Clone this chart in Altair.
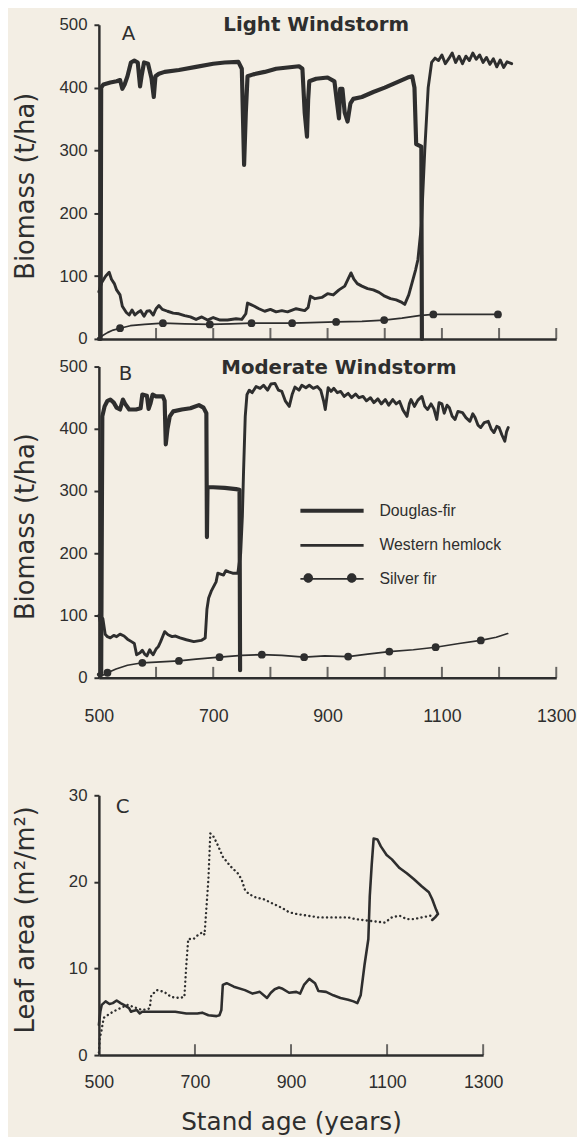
import altair as alt
import pandas as pd

INK = "#2e2e2e"
BG = "#f3eee4"
SERIES = ["Douglas-fir", "Western hemlock", "Silver fir"]

# ---------------- Panel A : Light windstorm (biomass, t/ha) ----------------
a_douglas = [(500, 0), (503, 0), (504, 400), (508, 405), (520, 408), (531, 410), (537, 412), (541, 398),
             (545, 405), (550, 418), (556, 440), (562, 443), (568, 440), (572, 402), (575, 420), (579, 440),
             (586, 438), (592, 415), (596, 385), (599, 418), (605, 422), (615, 425), (640, 428), (670, 433),
             (700, 438), (720, 440), (744, 441), (750, 430), (754, 277), (757, 360), (760, 418), (770, 421),
             (790, 425), (810, 430), (830, 432), (850, 434), (856, 430), (860, 360), (864, 322), (866, 380),
             (868, 410), (880, 414), (900, 416), (912, 410), (916, 380), (920, 351), (922, 398), (926, 398),
             (930, 360), (935, 346), (940, 375), (945, 382), (960, 385), (980, 393), (1000, 400), (1020, 408),
             (1040, 416), (1048, 418), (1052, 400), (1055, 310), (1064, 306), (1065, 0)]
a_hemlock = [(500, 75), (505, 90), (512, 100), (518, 106), (522, 95), (527, 88), (531, 78), (537, 70), (541, 52),
             (548, 42), (553, 38), (558, 46), (563, 38), (568, 42), (573, 45), (579, 36), (584, 44), (589, 45),
             (595, 38), (600, 48), (605, 53), (611, 47), (620, 44), (630, 41), (640, 40), (650, 37), (660, 35),
             (670, 31), (680, 35), (690, 30), (700, 34), (712, 30), (725, 30), (740, 32), (750, 31), (757, 40),
             (760, 57), (765, 55), (772, 52), (780, 48), (790, 44), (800, 47), (810, 43), (820, 45), (830, 43),
             (845, 48), (860, 45), (866, 50), (870, 68), (878, 64), (890, 66), (900, 72), (910, 70), (920, 78),
             (930, 84), (941, 105), (946, 95), (952, 88), (960, 84), (970, 80), (980, 78), (990, 74), (1000, 68),
             (1010, 64), (1020, 62), (1030, 58), (1035, 55), (1042, 70), (1048, 90), (1054, 110), (1058, 126),
             (1064, 180), (1070, 300), (1076, 400), (1082, 440), (1088, 447), (1094, 443), (1100, 452),
             (1106, 438), (1112, 446), (1118, 455), (1124, 440), (1130, 450), (1136, 438), (1142, 450),
             (1148, 443), (1154, 455), (1160, 445), (1166, 452), (1172, 440), (1178, 448), (1184, 437),
             (1190, 446), (1196, 433), (1202, 444), (1208, 432), (1214, 441), (1222, 438)]
a_silver = [(500, 0), (506, 5), (515, 10), (525, 14), (537, 17), (555, 21), (580, 23), (612, 25), (650, 24),
            (694, 23), (730, 24), (767, 25), (800, 25), (838, 25), (870, 26), (915, 27), (960, 28), (999, 30),
            (1030, 33), (1060, 37), (1085, 39), (1140, 39), (1198, 39)]
a_silver_dots = [(537, 17), (612, 25), (694, 23), (767, 25), (838, 25), (915, 27), (999, 30), (1085, 39), (1198, 39)]

# ---------------- Panel B : Moderate windstorm (biomass, t/ha) ----------------
b_douglas = [(500, 5), (504, 5), (506, 420), (510, 436), (515, 445), (520, 447), (526, 442), (531, 434),
             (537, 431), (542, 447), (546, 440), (553, 431), (565, 431), (573, 433), (576, 455), (584, 453),
             (587, 432), (590, 440), (594, 455), (600, 452), (612, 452), (615, 445), (617, 375), (620, 400),
             (624, 420), (630, 428), (645, 431), (660, 433), (675, 438), (683, 434), (688, 425), (689, 226),
             (690, 306), (700, 306), (720, 305), (740, 303), (746, 302), (747, 12)]
b_hemlock = [(500, 100), (503, 88), (507, 95), (511, 70), (515, 66), (520, 64), (526, 68), (531, 66), (537, 70),
             (544, 67), (550, 62), (557, 58), (562, 55), (566, 37), (572, 40), (576, 44), (580, 38), (584, 35),
             (589, 45), (592, 40), (595, 37), (600, 46), (604, 50), (608, 58), (615, 74), (621, 69), (628, 66),
             (634, 67), (642, 64), (653, 61), (666, 58), (679, 60), (686, 64), (689, 110), (692, 128), (697, 140),
             (705, 154), (708, 168), (718, 165), (722, 172), (727, 170), (734, 168), (743, 168), (748, 200),
             (751, 260), (753, 330), (756, 420), (759, 455), (763, 462), (768, 458), (775, 468), (782, 465),
             (788, 470), (795, 462), (801, 472), (808, 473), (814, 462), (820, 460), (826, 445), (833, 436),
             (838, 455), (843, 467), (850, 462), (855, 470), (862, 466), (868, 470), (875, 465), (882, 468),
             (888, 462), (893, 445), (896, 431), (901, 466), (906, 460), (911, 465), (917, 458), (923, 460),
             (929, 452), (936, 457), (942, 450), (949, 456), (955, 450), (962, 452), (968, 445), (975, 450),
             (981, 442), (988, 448), (994, 440), (1001, 447), (1007, 438), (1014, 447), (1020, 440), (1026, 444),
             (1032, 430), (1039, 420), (1043, 440), (1046, 447), (1052, 436), (1058, 446), (1065, 452),
             (1070, 436), (1075, 431), (1081, 440), (1086, 432), (1091, 415), (1095, 442), (1100, 440),
             (1104, 425), (1109, 438), (1113, 434), (1118, 420), (1123, 415), (1128, 428), (1136, 426),
             (1142, 418), (1149, 412), (1154, 424), (1158, 418), (1163, 406), (1168, 402), (1174, 410),
             (1181, 412), (1186, 400), (1191, 394), (1196, 404), (1200, 402), (1205, 390), (1210, 380),
             (1213, 395), (1216, 402)]
b_silver = [(500, 0), (505, 3), (515, 8), (530, 14), (550, 20), (576, 24), (600, 25), (640, 27), (670, 30),
            (711, 33), (750, 36), (785, 37), (820, 36), (859, 33), (895, 35), (936, 34), (970, 38), (1008, 42),
            (1050, 45), (1089, 49), (1130, 55), (1168, 60), (1195, 65), (1215, 71)]
b_silver_dots = [(515, 8), (576, 24), (640, 27), (711, 33), (785, 37), (859, 33), (936, 34), (1008, 42),
                 (1089, 49), (1168, 60)]

# ---------------- Panel C : leaf area (m2/m2) ----------------
c_solid = [(500, 3.5), (503, 5.0), (506, 5.8), (514, 6.2), (522, 5.9), (529, 6.0), (537, 6.3), (545, 6.0),
           (552, 5.8), (558, 5.6), (563, 5.4), (567, 5.0), (571, 5.1), (579, 5.2), (585, 4.8), (590, 5.0),
           (600, 5.0), (630, 5.0), (659, 5.0), (682, 4.8), (705, 4.8), (715, 4.9), (728, 4.6), (745, 4.5),
           (751, 4.6), (755, 5.2), (758, 8.1), (766, 8.3), (781, 7.9), (804, 7.5), (820, 7.1), (835, 7.3),
           (850, 6.6), (858, 7.2), (866, 7.6), (875, 7.8), (881, 7.7), (896, 7.2), (911, 7.3), (919, 7.1),
           (927, 8.1), (938, 8.8), (950, 8.3), (957, 7.4), (973, 7.3), (988, 6.9), (1003, 6.6), (1019, 6.4),
           (1030, 6.2), (1038, 6.0), (1045, 6.9), (1053, 10.4), (1061, 13.4), (1064, 18.4), (1068, 22.0),
           (1072, 25.0), (1080, 24.9), (1087, 24.1), (1099, 23.1), (1110, 22.6), (1126, 21.6), (1141, 21.0),
           (1156, 20.3), (1172, 19.5), (1187, 18.8), (1194, 18.0), (1202, 16.8), (1206, 16.3), (1200, 15.9),
           (1194, 15.6)]
c_dotted = [(500, 0.3), (502, 2.0), (505, 2.7), (510, 4.3), (518, 4.6), (529, 5.0), (544, 5.4), (560, 5.8),
            (575, 5.5), (590, 5.2), (600, 5.3), (606, 5.4), (609, 6.9), (621, 7.5), (636, 7.3), (651, 6.7),
            (667, 6.6), (678, 6.7), (682, 10.4), (686, 13.4), (697, 13.4), (705, 13.8), (716, 14.2), (720, 13.9),
            (728, 20.3), (732, 25.6), (739, 25.2), (747, 24.3), (758, 22.9), (774, 21.8), (789, 21.0),
            (797, 20.3), (804, 19.1), (812, 18.6), (827, 18.2), (843, 18.0), (858, 17.6), (881, 17.0),
            (896, 16.5), (911, 16.3), (934, 16.1), (957, 15.9), (988, 15.9), (1019, 15.9), (1034, 15.7),
            (1064, 15.5), (1095, 15.3), (1110, 15.9), (1126, 16.1), (1141, 15.7), (1156, 15.7), (1172, 15.9),
            (1191, 16.1)]

biomass_ticks = [0, 100, 200, 300, 400, 500]
leaf_ticks = [0, 10, 20, 30]
x_ticks_ab = [600, 700, 800, 900, 1000, 1100, 1200, 1300]
x_labels_b = [500, 700, 900, 1100, 1300]
x_labels_c = [500, 700, 900, 1100, 1300]
x_ticks_c = [700, 900, 1100, 1300]

LINE_PATH = "M-8,0L8,0"
TWO_DOTS_PATH = ("M-7.2,0A1.2,1.2 0 1,0 -4.8,0A1.2,1.2 0 1,0 -7.2,0Z"
                 "M3.8,0A1.2,1.2 0 1,0 6.2,0A1.2,1.2 0 1,0 3.8,0Z")
TICK_LEN = 11


def long_frame(named):
    rows = []
    for name, pts in named:
        for i, (yr, v) in enumerate(pts):
            rows.append({"series": name, "year": yr, "value": v, "i": i})
    return pd.DataFrame(rows)


def y_axis(values, title, ty):
    return alt.Axis(values=values, title=title, titleX=-74, titleY=ty, titleAngle=270,
                    titleAlign="center", titleBaseline="middle", titleFont="DejaVu Sans",
                    titleFontSize=26, titleFontWeight="normal", titleColor=INK,
                    labelFont="Liberation Sans", labelFontSize=17, labelColor=INK, labelPadding=7,
                    tickSize=5, tickWidth=2, tickColor=INK, domainColor=INK, domainWidth=2.5, grid=False)


def x_axis(values, labels, pad, title=None, title_pad=0):
    kw = dict(orient="bottom", values=values, labels=labels, ticks=False, tickSize=0,
              domainColor=INK, domainWidth=2.5, grid=False, labelFont="Liberation Sans", labelFontSize=18,
              labelColor=INK, labelPadding=pad, labelFlush=False, format="d")
    if title:
        kw.update(title=title, titleFont="DejaVu Sans", titleFontSize=25, titleFontWeight="normal",
                  titleColor=INK, titlePadding=title_pad)
    else:
        kw.update(title=None)
    return alt.Axis(**kw)


def tick_layer(values, height, xsc, xax):
    # upward-pointing x-axis ticks, placed through the x scale
    return alt.Chart(pd.DataFrame({"year": values})).mark_tick(
        color=INK, size=TICK_LEN, thickness=2, orient="vertical").encode(
        x=alt.X("year:Q", scale=xsc, axis=xax), y=alt.value(height - TICK_LEN / 2))


def label_layer(text, font_size, weight, tx, ty):
    return alt.Chart(pd.DataFrame({"t": [text]})).mark_text(
        font="DejaVu Sans", fontSize=font_size, fontWeight=weight, color=INK,
        align="center", baseline="middle").encode(text="t:N", x=alt.value(tx), y=alt.value(ty))


sw_scale = alt.Scale(domain=SERIES, range=[4.2, 1.7, 1.8])
x_scale = alt.Scale(domain=[500, 1300], nice=False, zero=False)
bio_scale = alt.Scale(domain=[0, 500], nice=False)

LEG_X, LEG_Y, ROW = 228, 138, 34


def biomass_panel(lines, dots, height, letter, lxy, title, txy, show_labels, with_legend):
    legend = None
    if with_legend:
        legend = alt.Legend(orient="none", legendX=LEG_X, legendY=LEG_Y, title=None, padding=0,
                            symbolType=LINE_PATH, symbolSize=64, labelOffset=40, rowPadding=ROW - 16,
                            symbolStrokeColor=INK, labelFont="Liberation Sans", labelFontSize=16,
                            labelColor=INK)
    yax = y_axis(biomass_ticks, "Biomass (t/ha)", height / 2 + 4)
    xax = x_axis(x_labels_b if show_labels else [500], show_labels, 30)
    lines_layer = alt.Chart(lines).mark_line(color=INK, strokeJoin="round", strokeCap="round").encode(
        x=alt.X("year:Q", scale=x_scale, axis=xax),
        y=alt.Y("value:Q", scale=bio_scale, axis=yax),
        strokeWidth=alt.StrokeWidth("series:N", scale=sw_scale, legend=legend),
        order="i:Q",
    )
    dots_layer = alt.Chart(dots).mark_circle(color=INK, size=62, opacity=1).encode(
        x=alt.X("year:Q", scale=x_scale, axis=xax),
        y=alt.Y("value:Q", scale=bio_scale, axis=yax),
    )
    layers = [lines_layer, dots_layer, tick_layer(x_ticks_ab, height, x_scale, xax),
              label_layer(letter, 20, "normal", lxy[0], lxy[1]),
              label_layer(title, 20, "bold", txy[0], txy[1])]
    if with_legend:
        # invisible copy of the silver-fir dots that only supplies the dotted legend symbol
        helper = alt.Chart(dots).mark_point(filled=True, color=INK, opacity=0).encode(
            x=alt.X("year:Q", scale=x_scale, axis=xax),
            y=alt.Y("value:Q", scale=bio_scale, axis=yax),
            shape=alt.Shape("series:N", scale=alt.Scale(domain=["Silver fir"], range=[TWO_DOTS_PATH]),
                            legend=alt.Legend(orient="none", legendX=LEG_X, legendY=LEG_Y + 2 * ROW,
                                              title=None, padding=0, symbolSize=64, symbolOpacity=1,
                                              symbolFillColor=INK, symbolStrokeColor=INK,
                                              symbolStrokeWidth=0.5, labelExpr="''",
                                              labelFontSize=16, labelOffset=40)),
        )
        layers.append(helper)
    return alt.layer(*layers).properties(width=463, height=height)


a_lines = long_frame([("Douglas-fir", a_douglas), ("Western hemlock", a_hemlock), ("Silver fir", a_silver)])
a_dots = long_frame([("Silver fir", a_silver_dots)])
b_lines = long_frame([("Douglas-fir", b_douglas), ("Western hemlock", b_hemlock), ("Silver fir", b_silver)])
b_dots = long_frame([("Silver fir", b_silver_dots)])

panel_a = biomass_panel(a_lines, a_dots, 318, "A", (30, 9), "Light Windstorm", (220, 0), False, False)
panel_b = biomass_panel(b_lines, b_dots, 315, "B", (27, 8), "Moderate Windstorm", (243, 2), True, True)

# Panel C
c_height = 263
c_x = alt.Scale(domain=[500, 1300], nice=False, zero=False)
c_y = alt.Scale(domain=[0, 30], nice=False)
c_yax = y_axis(leaf_ticks, "Leaf area (m²/m²)", c_height / 2 - 6)
c_xax = x_axis(x_labels_c, True, 19, "Stand age (years)", 18)
c_solid_layer = alt.Chart(long_frame([("solid", c_solid)])).mark_line(
    color=INK, strokeWidth=2.6, strokeJoin="round", strokeCap="round").encode(
    x=alt.X("year:Q", scale=c_x, axis=c_xax),
    y=alt.Y("value:Q", scale=c_y, axis=c_yax),
    order="i:Q",
)
c_dotted_layer = alt.Chart(long_frame([("dotted", c_dotted)])).mark_line(
    color=INK, strokeWidth=2.4, strokeDash=[0.1, 4.4], strokeCap="round").encode(
    x=alt.X("year:Q", scale=c_x, axis=c_xax),
    y=alt.Y("value:Q", scale=c_y, axis=c_yax),
    order="i:Q",
)
panel_c = alt.layer(
    c_solid_layer, c_dotted_layer, tick_layer(x_ticks_c, c_height, c_x, c_xax),
    label_layer("C", 20, "normal", 24, 12)
).properties(width=389, height=c_height)

top = (alt.vconcat(panel_a, panel_b, spacing=11)
       .resolve_scale(strokeWidth="independent", shape="independent")
       .resolve_legend(strokeWidth="independent", shape="independent"))
chart = (alt.vconcat(top, panel_c, spacing=62)
         .resolve_scale(strokeWidth="independent", shape="independent")
         .resolve_legend(strokeWidth="independent", shape="independent")
         .properties(padding={"left": 4, "top": 0, "right": 0, "bottom": 0})
         .configure(background=BG)
         .configure_view(stroke=None))

chart.save("out.html", embed_options={"renderer": "svg", "actions": False})
